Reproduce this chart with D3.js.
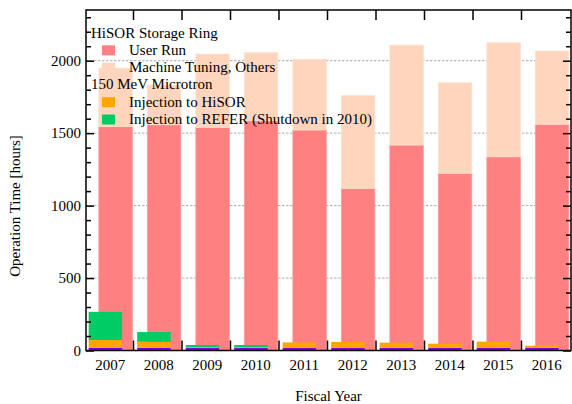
<!DOCTYPE html>
<html>
<head>
<meta charset="utf-8">
<script src="https://cdn.jsdelivr.net/npm/d3@7/dist/d3.min.js"></script>
<style>
html,body{margin:0;padding:0;background:#fff;}
svg{display:block;}
text{font-family:"Liberation Serif","Times New Roman",serif;fill:#000;}
</style>
</head>
<body>
<svg id="chart" width="572" height="404"></svg>
<script>
// ---- data ----
const years = ['2007','2008','2009','2010','2011','2012','2013','2014','2015','2016'];
// HiSOR Storage Ring
const userRun       = [1545, 1558, 1540, 1586, 1522, 1119, 1418, 1223, 1337, 1561];
const machineTuning = [ 403,  274,  506,  469,  488,  640,  690,  625,  787,  506];
// 150 MeV Microtron
const microOther    = [  18,   18,   17,   17,   17,   17,   17,   17,   17,   17];
const injHiSOR      = [  54,   42,    7,    7,   39,   42,   37,   30,   44,   16];
const injREFER      = [ 195,   67,   14,   14,    0,    0,    0,    0,    0,    0];
const yTicks = [0, 500, 1000, 1500, 2000];
const yMinor = [100,200,300,400,600,700,800,900,1100,1200,1300,1400,1600,1700,1800,1900,2100,2200,2300];

const colUser = '#FF8080', colTune = '#FFD5BE', colOther = '#7300F0', colInjH = '#FFA500', colInjR = '#00CC66';
const FONT = '"Liberation Serif","Times New Roman",serif';

const svg = d3.select('#chart');
const L = 86, R = 571, T = 10, B = 350.5;
const x = d3.scaleBand().domain(years).range([L, R]).padding(0);
const y = d3.scaleLinear().domain([0, 2350]).range([B, T]);
const bw = x.bandwidth();

// grid
svg.append('g').selectAll('line').data(yTicks.filter(d => d > 0)).join('line')
  .attr('x1', L).attr('x2', R).attr('y1', d => y(d)).attr('y2', d => y(d))
  .attr('stroke', '#aaa').attr('stroke-width', 1).attr('stroke-dasharray', '2.5,1.5');

// HiSOR bars
const hisor = years.map((yr, i) => ({yr, u: userRun[i], m: machineTuning[i]}));
const hx = d => x(d.yr) + bw * 0.265, hw = bw * 0.69;
const gH = svg.append('g');
gH.selectAll('.u').data(hisor).join('rect').attr('class','u')
  .attr('x', hx).attr('width', hw)
  .attr('y', d => y(d.u)).attr('height', d => y(0) - y(d.u))
  .attr('fill', colUser).attr('stroke', '#FF9A9A').attr('stroke-width', 0.8);
gH.selectAll('.m').data(hisor).join('rect').attr('class','m')
  .attr('x', hx).attr('width', hw)
  .attr('y', d => y(d.u + d.m)).attr('height', d => y(d.u) - y(d.u + d.m))
  .attr('fill', colTune).attr('stroke', '#FFE0CF').attr('stroke-width', 0.8);

// Microtron stacked bars
const keys = ['o','h','r'];
const cols = {o: colOther, h: colInjH, r: colInjR};
const micro = years.map((yr, i) => ({yr, o: microOther[i], h: injHiSOR[i], r: injREFER[i]}));
const stack = d3.stack().keys(keys)(micro);
const mx = d => x(d.data.yr) + bw * 0.055;
svg.append('g').selectAll('g').data(stack).join('g')
  .attr('fill', s => cols[s.key])
  .selectAll('rect').data(s => s).join('rect')
  .attr('x', mx).attr('width', hw)
  .attr('y', d => y(d[1])).attr('height', d => Math.max(0, y(d[0]) - y(d[1])));

// axes
const axL = d3.axisLeft(y).tickValues(yTicks).tickFormat(d3.format('d')).tickSizeInner(-8).tickSizeOuter(0).tickPadding(5);
const gL = svg.append('g').attr('transform', `translate(${L},0)`).call(axL)
  .attr('font-family', FONT).attr('font-size', 15);
gL.selectAll('text').style('font-size', '15px').style('font-family', FONT);
const axLm = d3.axisLeft(y).tickValues(yMinor).tickSizeInner(-5).tickSizeOuter(0).tickFormat('');
svg.append('g').attr('transform', `translate(${L},0)`).call(axLm);
const axR = d3.axisRight(y).tickValues(yTicks).tickSizeInner(-8).tickSizeOuter(0).tickFormat('');
svg.append('g').attr('transform', `translate(${R},0)`).call(axR);
const axRm = d3.axisRight(y).tickValues(yMinor).tickSizeInner(-5).tickSizeOuter(0).tickFormat('');
svg.append('g').attr('transform', `translate(${R},0)`).call(axRm);
svg.selectAll('.domain').remove();
svg.selectAll('.tick line').attr('stroke', '#000').attr('stroke-width', 1.5);

// x boundary ticks (bottom and top)
const bounds = years.slice(1);
svg.append('g').selectAll('line').data(bounds).join('line')
  .attr('x1', d => x(d) - 1).attr('x2', d => x(d) - 1).attr('y1', B).attr('y2', B - 10)
  .attr('stroke', '#000').attr('stroke-width', 1.5);
svg.append('g').selectAll('line').data(bounds).join('line')
  .attr('x1', d => x(d) - 1).attr('x2', d => x(d) - 1).attr('y1', T).attr('y2', T + 10)
  .attr('stroke', '#000').attr('stroke-width', 1.5);

// x labels
svg.append('g').selectAll('text').data(years).join('text')
  .attr('x', d => x(d) + bw / 2).attr('y', 370)
  .attr('text-anchor', 'middle').style('font-size', '15px').text(d => d);

// frame
svg.append('rect').attr('x', L).attr('y', T).attr('width', R - L).attr('height', B - T)
  .attr('fill', 'none').attr('stroke', '#000').attr('stroke-width', 1.5);

// titles
svg.append('text').attr('x', L + (R - L) / 2).attr('y', 401).attr('text-anchor', 'middle')
  .style('font-size', '15px').text('Fiscal Year');
svg.append('text').attr('transform', 'translate(20,206) rotate(-90)').attr('text-anchor', 'middle')
  .style('font-size', '15px').text('Operation Time [hours]');

// legend
const leg = [
  {t: 'HiSOR Storage Ring', head: true},
  {t: 'User Run', c: colUser},
  {t: 'Machine Tuning, Others', c: colTune},
  {t: '150 MeV Microtron', head: true},
  {t: 'Injection to HiSOR', c: colInjH},
  {t: 'Injection to REFER (Shutdown in 2010)', c: colInjR}
];
const lg = svg.append('g');
leg.forEach((d, i) => {
  const by = 37.5 + i * 17.3;
  if (d.head) {
    lg.append('text').attr('x', 91).attr('y', by).style('font-size', '15px').text(d.t);
  } else {
    lg.append('rect').attr('x', 102).attr('y', by - 9.5).attr('width', 13).attr('height', 10).attr('fill', d.c);
    lg.append('text').attr('x', 129).attr('y', by).style('font-size', '15px').text(d.t);
  }
});
</script>
</body>
</html>
